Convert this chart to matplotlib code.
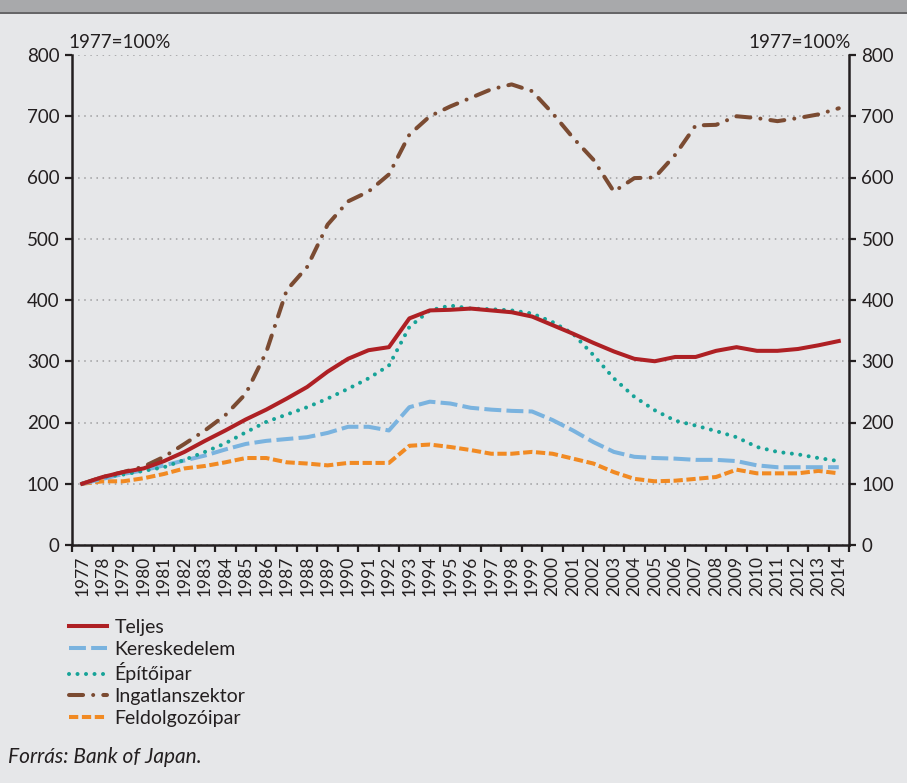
import numpy as np
import matplotlib
matplotlib.use("Agg")
import matplotlib.pyplot as plt
from matplotlib.patches import Rectangle
from matplotlib.lines import Line2D

years = list(range(1977, 2015))
teljes = [100, 111, 119, 125, 137, 152, 170, 187, 205, 221, 239, 258, 283, 304, 318, 323,
          370, 383, 384, 386, 383, 380, 373, 359, 345, 330, 316, 304, 300, 307, 307, 317,
          323, 317, 317, 320, 326, 333]
kereskedelem = [100, 108, 116, 122, 130, 138, 146, 156, 165, 170, 173, 176, 183, 193, 193, 187,
                225, 234, 231, 224, 221, 219, 218, 204, 187, 168, 152, 144, 142, 141, 139, 139,
                137, 130, 127, 127, 127, 127]
epitoipar = [100, 111, 115, 121, 127, 139, 152, 166, 184, 201, 213, 225, 239, 255, 272, 293,
             356, 383, 391, 386, 385, 383, 378, 364, 345, 310, 272, 242, 220, 203, 195, 186,
             176, 160, 152, 148, 142, 137]
ingatlan = [100, 111, 119, 128, 144, 165, 187, 212, 247, 315, 416, 454, 523, 561, 577, 605,
            670, 700, 716, 730, 744, 752, 741, 705, 665, 629, 577, 599, 600, 637, 685, 686,
            700, 697, 692, 697, 703, 713]
feldolgozo = [100, 104, 104, 109, 116, 125, 129, 135, 142, 142, 135, 133, 130, 134, 134, 134,
              162, 164, 160, 155, 149, 149, 152, 149, 141, 133, 119, 108, 104, 105, 108, 111,
              123, 117, 117, 117, 121, 117]

plt.rcParams["font.family"] = ["Lato", "DejaVu Sans"]
BG = "#e6e7e9"
AX = "#231f20"
FS = 13.5

fig = plt.figure(figsize=(9.07, 7.83), dpi=100, facecolor=BG)
# cut-off title band at the top
fig.patches.append(Rectangle((0, 1 - 12 / 783), 1, 12 / 783, transform=fig.transFigure,
                             facecolor="#a8a9ab", edgecolor="none"))
fig.add_artist(Line2D([0, 1], [1 - 13 / 783] * 2, transform=fig.transFigure, color="#4d4d4f", lw=1.2))

ax = fig.add_axes([72 / 907, 1 - 545 / 783, (849 - 72) / 907, (545 - 55) / 783])
ax.set_facecolor(BG)
x = np.arange(len(years))

lw = 2.9
ax.plot(x, ingatlan, color="#7b4b32", lw=lw, dashes=(3.5, 2.5, 0.01, 2.5), dash_capstyle="round",
        label="Ingatlanszektor", zorder=3)
ax.plot(x, feldolgozo, color="#f18a23", lw=lw, dashes=(2.3, 0.9), label="Feldolgozóipar", zorder=3)
ax.plot(x, kereskedelem, color="#7ab3df", lw=lw, dashes=(4.2, 1.3), label="Kereskedelem", zorder=3)
ax.plot(x, epitoipar, color="#17a398", lw=lw, dashes=(0.01, 2.1), dash_capstyle="round",
        label="Építőipar", zorder=4)
ax.plot(x, teljes, color="#ae2024", lw=lw, label="Teljes", zorder=5)

ax.set_xlim(-0.5, len(years) - 0.5)
ax.set_ylim(0, 800)
ax.set_yticks(range(0, 801, 100))
ax.yaxis.grid(True, color="#9d9d9f", ls=(0, (1, 3)), lw=1.1)
ax.set_axisbelow(True)
ax.spines["top"].set_visible(False)
for s in ["left", "right", "bottom"]:
    ax.spines[s].set_color(AX)
    ax.spines[s].set_linewidth(1.8)

ax.set_xticks(x)
ax.set_xticklabels([str(y) for y in years], rotation=90, fontsize=12.5, color=AX)
ax.set_xticks(np.arange(-0.5, len(years)), minor=True)
ax.tick_params(axis="x", which="major", length=0, pad=8)
ax.tick_params(axis="x", which="minor", length=5, width=1.6, color=AX, direction="out")
ax.tick_params(axis="y", length=5, width=1.6, color=AX, labelsize=FS, labelcolor=AX, pad=4)

ax2 = ax.twinx()
ax2.set_ylim(0, 800)
ax2.set_yticks(range(0, 801, 100))
ax2.tick_params(axis="y", length=5, width=1.6, color=AX, labelsize=FS, labelcolor=AX, pad=4)
for s in ax2.spines.values():
    s.set_visible(False)

fig.text(68 / 907, 1 - 43 / 783, "1977=100%", fontsize=FS, color=AX, va="center", ha="left")
fig.text(851 / 907, 1 - 43 / 783, "1977=100%", fontsize=FS, color=AX, va="center", ha="right")

handles, labels = ax.get_legend_handles_labels()
order = ["Teljes", "Kereskedelem", "Építőipar", "Ingatlanszektor", "Feldolgozóipar"]
hmap = dict(zip(labels, handles))
fig.legend([hmap[k] for k in order], order, loc="upper left",
           bbox_to_anchor=(69 / 907, 1 - 619 / 783), frameon=False, fontsize=14,
           handlelength=1.95, handletextpad=0.38, labelspacing=0.24, borderpad=0,
           borderaxespad=0, labelcolor=AX)

fig.text(8 / 907, 1 - 757 / 783, "Forrás: Bank of Japan.", fontsize=15, style="italic",
         color=AX, va="center", ha="left")

fig.savefig("out.png", dpi=100, facecolor=BG)
